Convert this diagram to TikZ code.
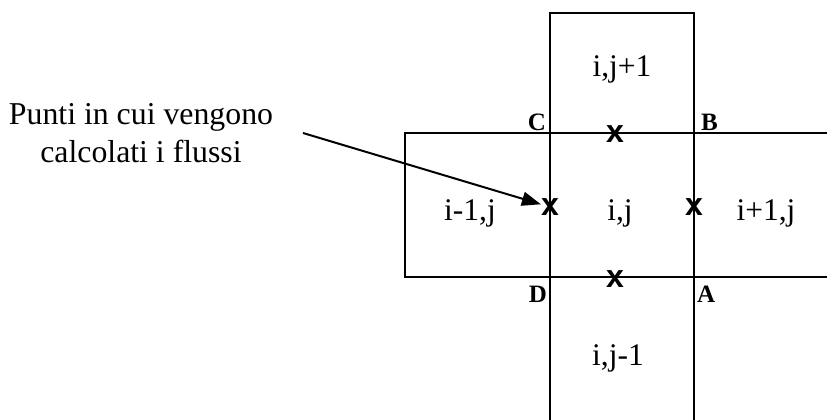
\documentclass[tikz,border=0pt]{standalone}
\usepackage{fontspec}
\setmainfont{Liberation Serif}
\newfontfamily\markfont{Liberation Sans}
\usetikzlibrary{arrows.meta}
\begin{document}
\begin{tikzpicture}[x=1pt,y=-1pt,
  grid/.style={line width=2pt},
  cell/.style={font=\fontsize{31.5}{37}\selectfont,inner sep=0pt,anchor=base},
  corner/.style={font=\fontsize{25}{30}\selectfont\bfseries,inner sep=0pt},
  fluxpt/.style={font=\markfont\fontsize{32}{32}\selectfont\bfseries,inner sep=0pt},
  pointer/.style={line width=2pt,-{Triangle[length=19pt,width=14pt]}}]
\useasboundingbox (0,0) rectangle (827,420);
% grid lines
\draw[grid] (550,420) -- (550,13) -- (694,13) -- (694,420);
\draw[grid] (827,133) -- (405,133) -- (405,277) -- (827,277);
% cell labels
\node[cell] (cu) at (622,77) {i,j+1};
\node[cell] (cl) at (470,220) {i-1,j};
\node[cell] (cc) at (620,220) {i,j};
\node[cell] (cr) at (766,220) {i+1,j};
\node[cell] (cd) at (618,365) {i,j-1};
% corner labels
\node[corner,anchor=base east] (lc) at (546,130) {C};
\node[corner,anchor=base west] (lb) at (701,130) {B};
\node[corner,anchor=base east] (ld) at (547,302) {D};
\node[corner,anchor=base west] (la) at (697,302) {A};
% flux points
\node[fluxpt] (xt) at (615,134) {x};
\node[fluxpt] (xl) at (550,207) {x};
\node[fluxpt] (xr) at (694,207) {x};
\node[fluxpt] (xb) at (615,279) {x};
% annotation
\node[font=\fontsize{31.8}{37.5}\selectfont,align=center,inner sep=0pt,anchor=base] (note) at (141,162) {Punti in cui vengono\\calcolati i flussi};
\coordinate (s) at (303,133);
\draw[pointer] (s) -- (xl);
\end{tikzpicture}
\end{document}
